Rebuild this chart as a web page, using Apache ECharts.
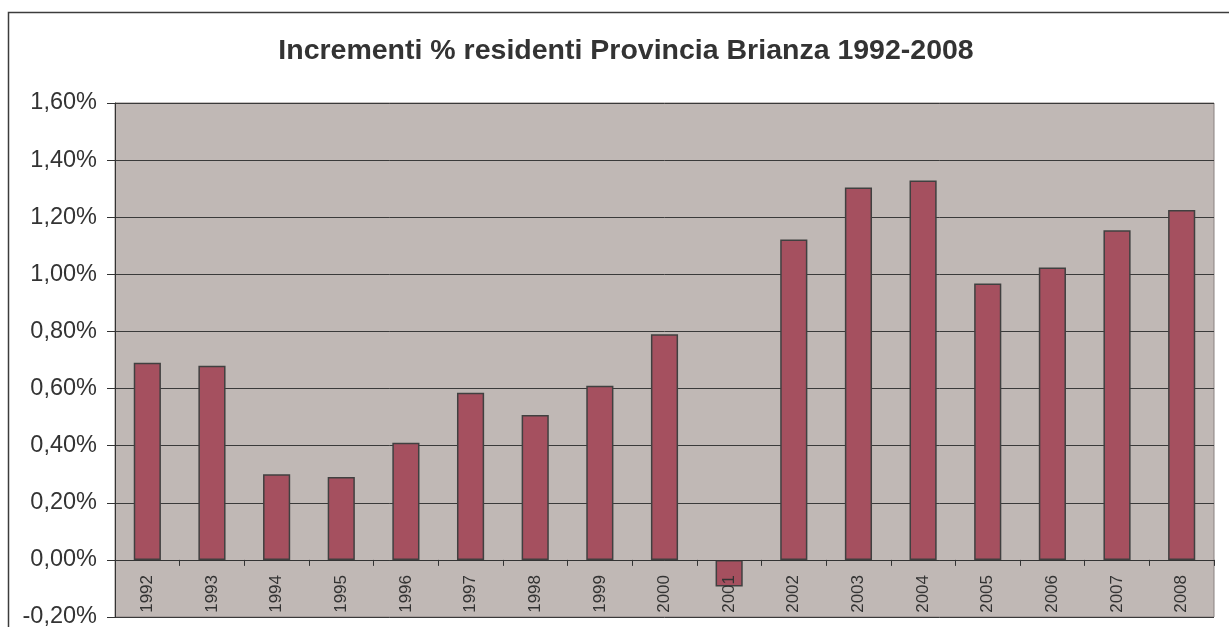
<!DOCTYPE html>
<html><head><meta charset="utf-8">
<script src="https://cdn.jsdelivr.net/npm/echarts@6/dist/echarts.min.js"></script>
<style>html,body{margin:0;padding:0;background:#fff}#c{width:1229px;height:627px}</style>
</head><body><div id="c"></div>
<script>
const titleText = 'Incrementi % residenti Provincia Brianza 1992-2008';
const years = ['1992','1993','1994','1995','1996','1997','1998','1999','2000','2001','2002','2003','2004','2005','2006','2007','2008'];
const increments = [0.69, 0.68, 0.30, 0.29, 0.41, 0.585, 0.507, 0.61, 0.79, -0.093, 1.122, 1.304, 1.329, 0.968, 1.024, 1.154, 1.225];
const yMin = -0.2, yMax = 1.6, yStep = 0.2;

const chart = echarts.init(document.getElementById('c'), null, {renderer: 'canvas'});
chart.setOption({
  animation: false,
  backgroundColor: '#ffffff',
  title: {
    text: titleText, left: 621, top: 32, textAlign: 'center',
    textStyle: {fontFamily: 'Liberation Sans, Arial, sans-serif', fontWeight: 'bold', fontSize: 28.5, color: '#333333'}
  },
  graphic: [{
    type: 'rect', z: -1, silent: true,
    shape: {x: 8.5, y: 12.5, width: 1260, height: 660},
    style: {fill: 'none', stroke: '#3c3c3c', lineWidth: 1.5}
  }],
  grid: {left: 115, right: 15, top: 103, bottom: 10, outerBoundsMode: 'none', containLabel: false, show: true, backgroundColor: '#C0B8B5', borderColor: '#8a8280', borderWidth: 1},
  xAxis: {
    type: 'category', data: years, z: 5,
    axisLine: {onZero: true, lineStyle: {color: '#333333', width: 1}},
    axisTick: {show: true, length: 6, lineStyle: {color: '#333333'}},
    axisLabel: {rotate: 90, margin: -42, interval: 0, fontSize: 17, color: '#333333', fontFamily: 'Liberation Sans, Arial, sans-serif'}
  },
  yAxis: {
    type: 'value', min: yMin, max: yMax, interval: yStep,
    axisLine: {show: true, lineStyle: {color: '#333333', width: 1}},
    axisTick: {show: true, length: 8, lineStyle: {color: '#333333'}},
    axisLabel: {
      margin: 18, fontSize: 23.5, color: '#333333', fontFamily: 'Liberation Sans, Arial, sans-serif',
      formatter: v => v.toFixed(2).replace('.', ',') + '%'
    },
    splitLine: {show: true, lineStyle: {color: '#3a3a3a', width: 1}}
  },
  series: [{
    type: 'bar', data: increments, barCategoryGap: '58%',
    itemStyle: {color: '#A5505F', borderColor: '#404040', borderWidth: 1.5}
  }]
});
</script></body></html>
